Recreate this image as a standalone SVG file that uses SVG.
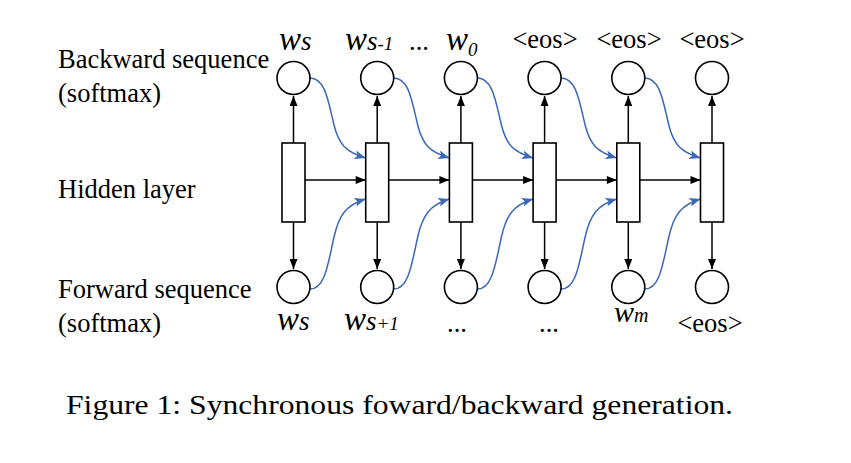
<svg xmlns="http://www.w3.org/2000/svg" width="851" height="463" viewBox="0 0 851 463">
<style>
.t{font-family:"Liberation Serif","Times New Roman",serif;font-size:26.5px;fill:#000}
.w{font-family:"Liberation Serif","Times New Roman",serif;font-style:italic;fill:#000}
.node{fill:#fff;stroke:#000;stroke-width:1.6}
.k{fill:none;stroke:#000;stroke-width:1.5}
.b{fill:none;stroke:#3a68b4;stroke-width:1.5}
</style>
<defs>
<marker id="ak" viewBox="0 0 10 8" refX="10" refY="4" markerWidth="11" markerHeight="8" markerUnits="userSpaceOnUse" orient="auto"><path d="M0,0 L10,4 L0,8 Z" fill="#000"/></marker>
<marker id="ab" viewBox="0 0 10 8" refX="10" refY="4" markerWidth="12" markerHeight="9" markerUnits="userSpaceOnUse" orient="auto"><path d="M0,0 L10,4 L0,8 L2.5,4 Z" fill="#3a68b4"/></marker>
</defs>
<rect width="851" height="463" fill="#fff"/>
<g id="labels">
<text class="t" x="58" y="68">Backward sequence</text>
<text class="t" x="58" y="102">(softmax)</text>
<text class="t" x="58" y="198">Hidden layer</text>
<text class="t" x="58" y="298">Forward sequence</text>
<text class="t" x="58" y="332">(softmax)</text>
</g>
<g id="connectors">
<path class="k" d="M293.5,143 V96" marker-end="url(#ak)"/>
<path class="k" d="M377.2,143 V96" marker-end="url(#ak)"/>
<path class="k" d="M460.9,143 V96" marker-end="url(#ak)"/>
<path class="k" d="M544.6,143 V96" marker-end="url(#ak)"/>
<path class="k" d="M628.3,143 V96" marker-end="url(#ak)"/>
<path class="k" d="M712,143 V96" marker-end="url(#ak)"/>
<path class="k" d="M293.5,222 V269" marker-end="url(#ak)"/>
<path class="k" d="M377.2,222 V269" marker-end="url(#ak)"/>
<path class="k" d="M460.9,222 V269" marker-end="url(#ak)"/>
<path class="k" d="M544.6,222 V269" marker-end="url(#ak)"/>
<path class="k" d="M628.3,222 V269" marker-end="url(#ak)"/>
<path class="k" d="M712,222 V269" marker-end="url(#ak)"/>
<path class="k" d="M305,180 H365.7" marker-end="url(#ak)"/>
<path class="k" d="M388.7,180 H449.4" marker-end="url(#ak)"/>
<path class="k" d="M472.4,180 H533.1" marker-end="url(#ak)"/>
<path class="k" d="M556.1,180 H616.8" marker-end="url(#ak)"/>
<path class="k" d="M639.8,180 H700.5" marker-end="url(#ak)"/>
<path class="b" d="M310,78 c15,0 18,22 24,47 c5,20 12,27 31.7,33" marker-end="url(#ab)"/>
<path class="b" d="M393.7,78 c15,0 18,22 24,47 c5,20 12,27 31.7,33" marker-end="url(#ab)"/>
<path class="b" d="M477.4,78 c15,0 18,22 24,47 c5,20 12,27 31.7,33" marker-end="url(#ab)"/>
<path class="b" d="M561.1,78 c15,0 18,22 24,47 c5,20 12,27 31.7,33" marker-end="url(#ab)"/>
<path class="b" d="M644.8,78 c15,0 18,22 24,47 c5,20 12,27 31.7,33" marker-end="url(#ab)"/>
<path class="b" d="M310,289 c15,0 18,-25 24,-52 c5,-22 12,-32 31.7,-38" marker-end="url(#ab)"/>
<path class="b" d="M393.7,289 c15,0 18,-25 24,-52 c5,-22 12,-32 31.7,-38" marker-end="url(#ab)"/>
<path class="b" d="M477.4,289 c15,0 18,-25 24,-52 c5,-22 12,-32 31.7,-38" marker-end="url(#ab)"/>
<path class="b" d="M561.1,289 c15,0 18,-25 24,-52 c5,-22 12,-32 31.7,-38" marker-end="url(#ab)"/>
<path class="b" d="M644.8,289 c15,0 18,-25 24,-52 c5,-22 12,-32 31.7,-38" marker-end="url(#ab)"/>
</g>
<g id="col1"><circle class="node" cx="293.5" cy="78" r="16.5"/><rect class="node" x="282" y="143" width="23" height="79"/><circle class="node" cx="293.5" cy="287" r="16.5"/></g>
<g id="col2"><circle class="node" cx="377.2" cy="78" r="16.5"/><rect class="node" x="365.7" y="143" width="23" height="79"/><circle class="node" cx="377.2" cy="287" r="16.5"/></g>
<g id="col3"><circle class="node" cx="460.9" cy="78" r="16.5"/><rect class="node" x="449.4" y="143" width="23" height="79"/><circle class="node" cx="460.9" cy="287" r="16.5"/></g>
<g id="col4"><circle class="node" cx="544.6" cy="78" r="16.5"/><rect class="node" x="533.1" y="143" width="23" height="79"/><circle class="node" cx="544.6" cy="287" r="16.5"/></g>
<g id="col5"><circle class="node" cx="628.3" cy="78" r="16.5"/><rect class="node" x="616.8" y="143" width="23" height="79"/><circle class="node" cx="628.3" cy="287" r="16.5"/></g>
<g id="col6"><circle class="node" cx="712" cy="78" r="16.5"/><rect class="node" x="700.5" y="143" width="23" height="79"/><circle class="node" cx="712" cy="287" r="16.5"/></g>
<g id="top-labels">
<text class="w" x="279" y="50" font-size="33">w<tspan font-size="27">s</tspan></text>
<text class="w" x="345" y="50" font-size="33">w<tspan font-size="27">s</tspan><tspan font-size="19">-1</tspan></text>
<text class="t" x="409" y="50">...</text>
<text class="w" x="446" y="50" font-size="33">w<tspan font-size="19" dy="6">0</tspan></text>
<text class="t" x="545" y="48" text-anchor="middle" font-size="25">&lt;eos&gt;</text>
<text class="t" x="629" y="48" text-anchor="middle" font-size="25">&lt;eos&gt;</text>
<text class="t" x="712" y="48" text-anchor="middle" font-size="25">&lt;eos&gt;</text>
</g>
<g id="bottom-labels">
<text class="w" x="277" y="330" font-size="33">w<tspan font-size="27">s</tspan></text>
<text class="w" x="344" y="330" font-size="33">w<tspan font-size="27">s</tspan><tspan font-size="19">+1</tspan></text>
<text class="t" x="447" y="332">...</text>
<text class="t" x="539" y="332">...</text>
<text class="w" x="614" y="322" font-size="30">w<tspan font-size="20">m</tspan></text>
<text class="t" x="710" y="332" text-anchor="middle" font-size="25">&lt;eos&gt;</text>
</g>
<text class="t" x="66" y="414" font-size="28" textLength="667" lengthAdjust="spacingAndGlyphs">Figure 1: Synchronous foward/backward generation.</text>
</svg>
